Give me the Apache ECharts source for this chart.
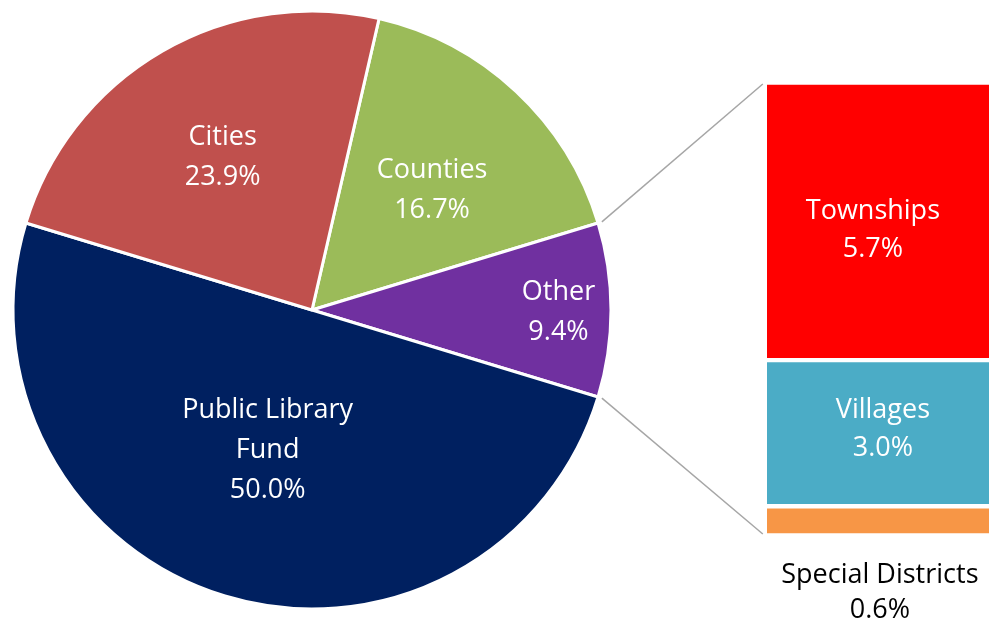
<!DOCTYPE html>
<html>
<head>
<meta charset="utf-8">
<script src="https://cdn.jsdelivr.net/npm/echarts@6/dist/echarts.min.js"></script>
<style>
  html, body { margin: 0; padding: 0; background: #fff; }
  #chart { width: 989px; height: 624px; }
</style>
</head>
<body>
<div id="chart"></div>
<script>
// pie slices, in clockwise order starting from Counties
const pieNames = ['Counties', 'Other', 'Public Library\nFund', 'Cities']
const pieValues = [16.7, 9.4, 50.0, 23.9]
const pieColors = ['#9BBB59', '#7030A0', '#002060', '#C0504D']

// breakdown of "Other", bottom to top
const barNames = ['Special Districts', 'Villages', 'Townships']
const barValues = [0.6, 3.0, 5.7]
const barColors = ['#F79646', '#4BACC6', '#FF0000']

const font = '"Open Sans", Lato, sans-serif'
const fontSize = 27
const cx = 312, cy = 310, radius = 299
// the bar runs past the right edge of the picture
const gridLeft = 764.8, gridTop = 82.5, gridBottom = 88.5, gridRight = -10
const chartHeight = 624

const pieTotal = pieValues.reduce((a, b) => a + b, 0)
const barTotal = barValues.reduce((a, b) => a + b, 0)
// keep "Other" centred on the horizontal axis
const startAngle = (pieValues[0] + pieValues[1] / 2) / pieTotal * 360
const otherHalf = pieValues[1] / 2 / pieTotal * 360
const otherIndex = pieNames.indexOf('Other')

// nudge labels to where they sit in the original
const labelNudge = [[16, -8], [0, 0], [0, -6], [-13, -21]]
const barLabelOffset = [[-2, 0], [1, -4], [-9, 9]]

const myChart = echarts.init(document.getElementById('chart'))

const pieLabel = {
    position: 'inside',
    color: '#fff',
    fontFamily: font,
    fontSize: fontSize,
    lineHeight: 40,
    formatter: p => p.name + '\n' + p.value.toFixed(1) + '%'
}

// connector lines from the "Other" slice edges to the bar corners
const a = otherHalf * Math.PI / 180
const edgeR = radius + 4
const px = cx + edgeR * Math.cos(a)
const barX = gridLeft - 2
const lineStyle = { stroke: '#A6A6A6', lineWidth: 1.5 }

const option = {
    animation: false,
    grid: {
        left: gridLeft, top: gridTop, bottom: gridBottom, right: gridRight,
        outerBoundsMode: 'none'
    },
    xAxis: { type: 'category', data: ['Other'], show: false },
    yAxis: { type: 'value', min: 0, max: barTotal, show: false },
    graphic: [
        { type: 'line', shape: { x1: px, y1: cy - edgeR * Math.sin(a), x2: barX, y2: gridTop + 1.5 }, style: lineStyle },
        { type: 'line', shape: { x1: px, y1: cy + edgeR * Math.sin(a), x2: barX, y2: chartHeight - gridBottom - 1.5 }, style: lineStyle }
    ],
    series: [
        {
            type: 'pie',
            center: [cx, cy],
            radius: radius,
            startAngle: startAngle,
            clockwise: true,
            itemStyle: { borderColor: '#fff', borderWidth: 3 },
            label: pieLabel,
            labelLayout: p => ({ dx: labelNudge[p.dataIndex][0], dy: labelNudge[p.dataIndex][1] }),
            emphasis: { disabled: true },
            data: pieNames.map((n, i) => ({
                name: n,
                value: pieValues[i],
                itemStyle: { color: pieColors[i] },
                label: { show: i !== otherIndex }
            }))
        },
        // transparent ring carrying the "Other" label further out, where it has room
        {
            type: 'pie',
            center: [cx, cy],
            radius: [188, radius],
            startAngle: startAngle,
            clockwise: true,
            silent: true,
            itemStyle: { color: 'rgba(0,0,0,0)' },
            label: pieLabel,
            labelLayout: { dy: 2 },
            emphasis: { disabled: true },
            data: pieNames.map((n, i) => ({
                name: n,
                value: pieValues[i],
                label: { show: i === otherIndex }
            }))
        },
        ...barNames.map((n, i) => ({
            type: 'bar',
            name: n,
            stack: 'other',
            barWidth: '100%',
            itemStyle: { color: barColors[i], borderColor: '#fff', borderWidth: 2.2 },
            label: i === 0 ? {
                show: true,
                position: 'bottom',
                distance: 22,
                offset: barLabelOffset[i],
                color: '#000',
                fontFamily: font,
                fontSize: fontSize,
                lineHeight: 35,
                formatter: p => p.seriesName + '\n' + p.value.toFixed(1) + '%'
            } : {
                show: true,
                position: 'inside',
                offset: barLabelOffset[i],
                color: '#fff',
                fontFamily: font,
                fontSize: fontSize,
                lineHeight: 38,
                formatter: p => p.seriesName + '\n' + p.value.toFixed(1) + '%'
            },
            emphasis: { disabled: true },
            data: [barValues[i]]
        }))
    ]
}
option && myChart.setOption(option)
</script>
</body>
</html>
